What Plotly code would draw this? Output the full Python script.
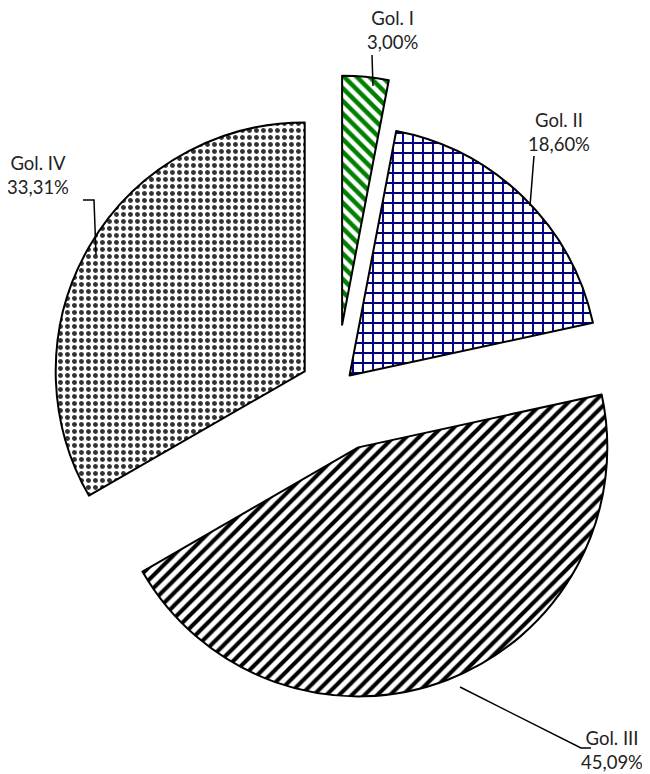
import plotly.graph_objects as go

labels = ["Gol. I", "Gol. II", "Gol. III", "Gol. IV"]
values = [3.00, 18.60, 45.09, 33.31]
value_text = ["3,00%", "18,60%", "45,09%", "33,31%"]

W, H = 650, 774

# how far each slice is exploded (fraction of radius)
pulls = [0.261, 0.078, 0.249, 0.145]

patterns = [
    dict(shape="\\", fgcolor="#008000", bgcolor="white", size=9, solidity=0.5),
    dict(shape="+", fgcolor="#000080", bgcolor="white", size=10, solidity=0.35),
    dict(shape="/", fgcolor="black", bgcolor="white", size=9, solidity=0.45),
    dict(shape=".", fgcolor="#333333", bgcolor="white", size=7, solidity=0.4),
]

fig = go.Figure(
    go.Pie(
        labels=labels,
        values=values,
        sort=False,
        direction="clockwise",
        rotation=0,
        pull=pulls,
        textinfo="none",
        hoverinfo="label+percent",
        marker=dict(
            colors=["white"] * 4,
            line=dict(color="black", width=2),
            pattern=dict(
                shape=[p["shape"] for p in patterns],
                fgcolor=[p["fgcolor"] for p in patterns],
                bgcolor=[p["bgcolor"] for p in patterns],
                size=[p["size"] for p in patterns],
                solidity=[p["solidity"] for p in patterns],
                fillmode="replace",
            ),
        ),
        domain=dict(x=[0.0215, 0.9877], y=[0.0142, 1.0]),
        showlegend=False,
    )
)


def px(x, y):
    return x / W, 1 - y / H


# label blocks (pixel centres) and their leader lines
label_pos = [(384, 22), (551, 124), (604, 742), (30, 167)]
leaders = [
    [(364, 47), (365, 78)],
    [(526, 148), (522, 198)],
    [(583, 740), (573, 740), (452, 679)],
    [(75, 192), (86, 192), (88, 247)],
]

for lab, txt, (lx, ly) in zip(labels, value_text, label_pos):
    ax, ay = px(lx, ly)
    fig.add_annotation(
        x=ax, y=ay, xref="paper", yref="paper",
        text=f"{lab}<br>{txt}",
        showarrow=False, align="center",
        xanchor="center", yanchor="middle",
        font=dict(family="Lato", size=18.5, color="#222222"),
    )

for pts in leaders:
    path = ""
    for i, (x, y) in enumerate(pts):
        a, b = px(x, y)
        path += ("M" if i == 0 else " L") + f" {a:.4f},{b:.4f}"
    fig.add_shape(type="path", path=path, xref="paper", yref="paper",
                  line=dict(color="black", width=1.5))

fig.update_layout(
    width=W,
    height=H,
    margin=dict(l=0, r=0, t=0, b=0),
    paper_bgcolor="white",
    plot_bgcolor="white",
)

fig.write_html("out.html")
